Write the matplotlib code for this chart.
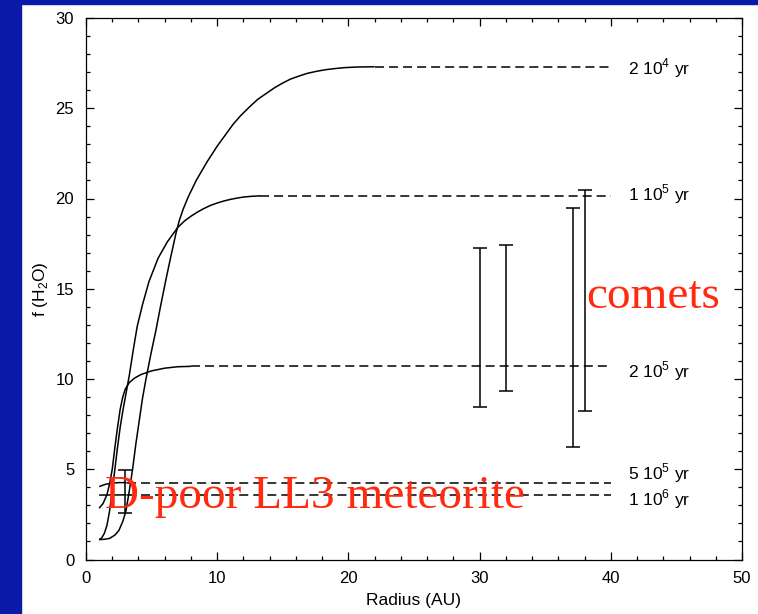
import numpy as np
import matplotlib
matplotlib.use("Agg")
import matplotlib.pyplot as plt
from matplotlib.patches import Rectangle
from matplotlib.ticker import MultipleLocator

plt.rcParams['font.family'] = ['Liberation Sans', 'DejaVu Sans']
plt.rcParams['mathtext.fontset'] = 'custom'
plt.rcParams['mathtext.rm'] = 'Liberation Sans'
plt.rcParams['lines.scale_dashes'] = False

# enrichment curves (solid part)
x_2e4 = [1.0, 1.4, 1.8, 2.2, 2.5, 2.8, 3.05, 3.3, 3.55, 3.8, 4.06, 4.3, 4.57, 4.95, 5.33,
         5.7, 6.09, 6.5, 6.85, 7.1, 7.4, 7.8, 8.4, 9.2, 10.0, 10.6, 11.2, 11.8, 12.5, 13.1,
         13.8, 14.4, 15.0, 15.6, 16.3, 16.9, 17.6, 18.3, 19.0, 19.7, 20.5, 21.2, 22.0]
y_2e4 = [1.1, 1.12, 1.17, 1.35, 1.6, 2.1, 2.7, 3.8, 5.0, 6.4, 7.7, 8.9, 10.0, 11.4, 12.7,
         14.1, 15.5, 16.9, 18.05, 18.75, 19.4, 20.1, 21.0, 22.0, 22.9, 23.5, 24.1, 24.6, 25.1,
         25.5, 25.85, 26.15, 26.4, 26.62, 26.8, 26.94, 27.05, 27.14, 27.2, 27.25, 27.28,
         27.29, 27.3]

x_1e5 = [1.0, 1.2, 1.4, 1.6, 1.8, 2.0, 2.2, 2.4, 2.6, 2.8, 3.0, 3.3, 3.6, 3.9, 4.3, 4.8,
         5.5, 6.2, 7.0, 7.5, 8.0, 8.5, 9.0, 9.5, 10.0, 10.5, 11.0, 11.5, 12.0, 12.6, 13.3]
y_1e5 = [1.1, 1.2, 1.45, 1.9, 2.7, 3.8, 5.0, 6.2, 7.3, 8.2, 9.0, 10.2, 11.6, 12.9, 14.1, 15.4,
         16.7, 17.6, 18.4, 18.75, 19.02, 19.25, 19.45, 19.62, 19.75, 19.86, 19.95, 20.02,
         20.08, 20.12, 20.15]

x_2e5 = [1.0, 1.3, 1.6, 1.8, 2.0, 2.2, 2.4, 2.6, 2.8, 3.0, 3.3, 3.7, 4.2, 5.0, 6.0, 7.0, 8.0]
y_2e5 = [2.84, 3.1, 3.6, 4.2, 5.0, 6.2, 7.3, 8.3, 9.0, 9.45, 9.8, 10.05, 10.25, 10.45, 10.6,
         10.68, 10.7]

x_5e5 = [1.0, 1.5, 2.0, 2.5, 3.1]
y_5e5 = [4.04, 4.17, 4.23, 4.26, 4.26]

x_1e6 = [1.0, 3.1]
y_1e6 = [3.57, 3.58]

labels = ['2 10$^{\\mathregular{4}}$ yr', '1 10$^{\\mathregular{5}}$ yr',
          '2 10$^{\\mathregular{5}}$ yr', '5 10$^{\\mathregular{5}}$ yr',
          '1 10$^{\\mathregular{6}}$ yr']
label_y = [26.9, 19.92, 10.08, 4.46, 3.02]
dash_end = 40.0

# observations (error bar extents)
comet_x = [30.0, 32.0, 37.1, 38.0]
comet_lo = [8.44, 9.33, 6.22, 8.22]
comet_hi = [17.24, 17.44, 19.46, 20.48]
met_x = [3.0]
met_lo = [2.56]
met_hi = [4.96]

fig = plt.figure(figsize=(7.58, 6.14), dpi=100, facecolor='white')
# blue slide border
fig.patches.append(Rectangle((0, 0), 21 / 758, 1, transform=fig.transFigure,
                             color='#0a19a8', zorder=0))
fig.patches.append(Rectangle((0, 1 - 4 / 614), 1, 4 / 614, transform=fig.transFigure,
                             color='#0a19a8', zorder=0))

ax = fig.add_axes([86 / 758, 54.5 / 614, 656 / 758, 541.5 / 614])
ax.set_xlim(0, 50)
ax.set_ylim(0, 30)

curves = [(x_2e4, y_2e4), (x_1e5, y_1e5), (x_2e5, y_2e5), (x_5e5, y_5e5), (x_1e6, y_1e6)]
for (xs, ys), lab, ly in zip(curves, labels, label_y):
    ax.plot(xs, ys, color='black', lw=1.1, solid_capstyle='butt', solid_joinstyle='round')
    ax.plot([xs[-1], dash_end], [ys[-1], ys[-1]], color='black', lw=1.1,
            dashes=(6.5, 3.6))
    ax.text(41.3, ly, lab, fontsize=12.5, va='baseline', ha='left')

c_mid = [(a + b) / 2 for a, b in zip(comet_lo, comet_hi)]
c_err = [(b - a) / 2 for a, b in zip(comet_lo, comet_hi)]
ax.errorbar(comet_x, c_mid, yerr=c_err, fmt='none', ecolor='black', elinewidth=1.1,
            capsize=4.7, capthick=1.1)
m_mid = [(a + b) / 2 for a, b in zip(met_lo, met_hi)]
m_err = [(b - a) / 2 for a, b in zip(met_lo, met_hi)]
ax.errorbar(met_x, m_mid, yerr=m_err, fmt='none', ecolor='black', elinewidth=1.1,
            capsize=4.7, capthick=1.1)

ax.text(38.15, 13.93, 'comets', color='#ff2a10', fontsize=34,
        family=['Liberation Serif'], va='baseline', ha='left')
ax.text(1.45, 2.85, 'D-poor LL3 meteorite', color='#ff2a10', fontsize=34,
        family=['Liberation Serif'], va='baseline', ha='left')

ax.xaxis.set_major_locator(MultipleLocator(10))
ax.xaxis.set_minor_locator(MultipleLocator(2))
ax.yaxis.set_major_locator(MultipleLocator(5))
ax.yaxis.set_minor_locator(MultipleLocator(1))
ax.tick_params(which='both', direction='in', top=True, right=True, width=0.9,
               labelsize=12)
ax.tick_params(which='major', length=5.5, pad=8.5)
ax.tick_params(which='minor', length=3)
for s in ax.spines.values():
    s.set_linewidth(0.9)

ax.set_xlabel('Radius (AU)', fontsize=12.5, labelpad=5)
ax.set_ylabel('f (H$_{\\mathregular{2}}$O)', fontsize=12.5, labelpad=4)

fig.savefig('out.png', dpi=100, facecolor='white')
